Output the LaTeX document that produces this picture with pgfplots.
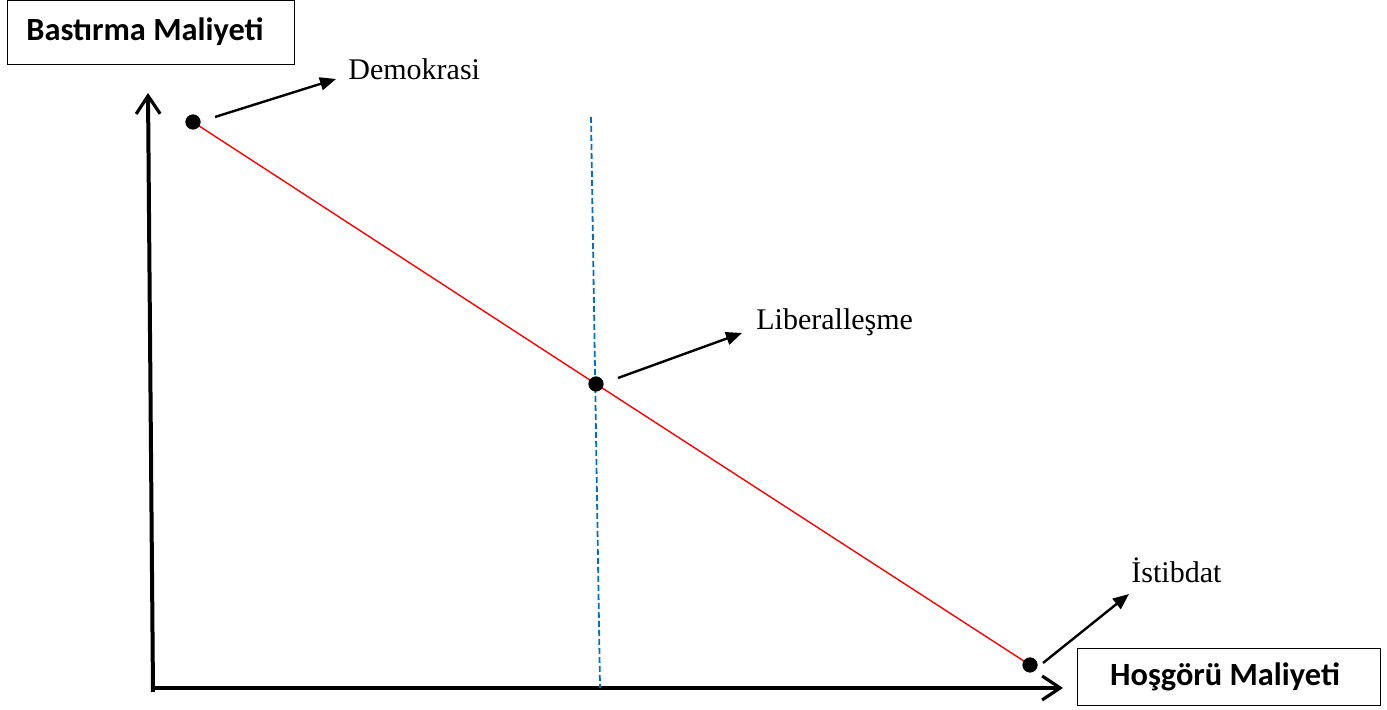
\documentclass[border=0pt]{standalone}
\usepackage{pgfplots}
\pgfplotsset{compat=1.18}
\usepackage{fontspec}
\setmainfont{Liberation Serif}
\newfontfamily\calibri{Carlito}
\usetikzlibrary{arrows.meta}
\definecolor{dashblue}{HTML}{0070C0}
\begin{document}
\begin{tikzpicture}
\begin{axis}[name=ax,
  scale only axis, width=693.5pt, height=355pt,
  xmin=0, xmax=1387, ymin=0, ymax=710,
  hide axis, clip=false]
% axes (pixel-based coordinates, y = 710 - row)
\addplot[black, line width=2pt, -{Straight Barb[length=9pt,width=12pt,line width=1.6pt]}] coordinates {(153,18) (148,617)};
\addplot[black, line width=2pt, -{Straight Barb[length=9pt,width=12pt,line width=1.6pt]}] coordinates {(151,22) (1063,22)};
% blue dashed line
\addplot[dashblue, line width=0.9pt, dash pattern=on 3pt off 1.5pt] coordinates {(591,593) (600,22)};
% red line
\addplot[red, line width=0.7pt] coordinates {(193,588) (596,326) (1030,45)};
% dots
\addplot[only marks, mark=*, mark size=3.6pt, black] coordinates {(193,588) (596,326) (1030,45)};
% annotation arrows
\addplot[black, line width=1.2pt, -{Triangle[length=8pt,width=6.5pt]}] coordinates {(215,593) (336,631)};
\addplot[black, line width=1.2pt, -{Triangle[length=8pt,width=6.5pt]}] coordinates {(618,332) (742,377)};
\addplot[black, line width=1.2pt, -{Triangle[length=8pt,width=6.5pt]}] coordinates {(1043,47) (1129,116)};
% labels
\node[anchor=base west, font=\fontsize{15}{17}\selectfont, inner sep=0pt] at (axis cs:348,630) {Demokrasi};
\node[anchor=base west, font=\fontsize{15}{17}\selectfont, inner sep=0pt] at (axis cs:756,380) {Liberalleşme};
\node[anchor=base west, font=\fontsize{15}{17}\selectfont, inner sep=0pt] at (axis cs:1131,127) {İstibdat};
% boxes
\draw[black, line width=0.5pt] (axis cs:7,709.5) rectangle (axis cs:294,645);
\node[font=\calibri\bfseries\fontsize{16.2}{19}\selectfont] at (axis cs:145,678) {Bastırma Maliyeti};
\draw[black, line width=0.5pt] (axis cs:1077,61) rectangle (axis cs:1380,4);
\node[font=\calibri\bfseries\fontsize{16.2}{19}\selectfont] at (axis cs:1225,33) {Hoşgörü Maliyeti};
\end{axis}
\pgfresetboundingbox
\path (ax.south west) rectangle (ax.north east);
\end{tikzpicture}
\end{document}
